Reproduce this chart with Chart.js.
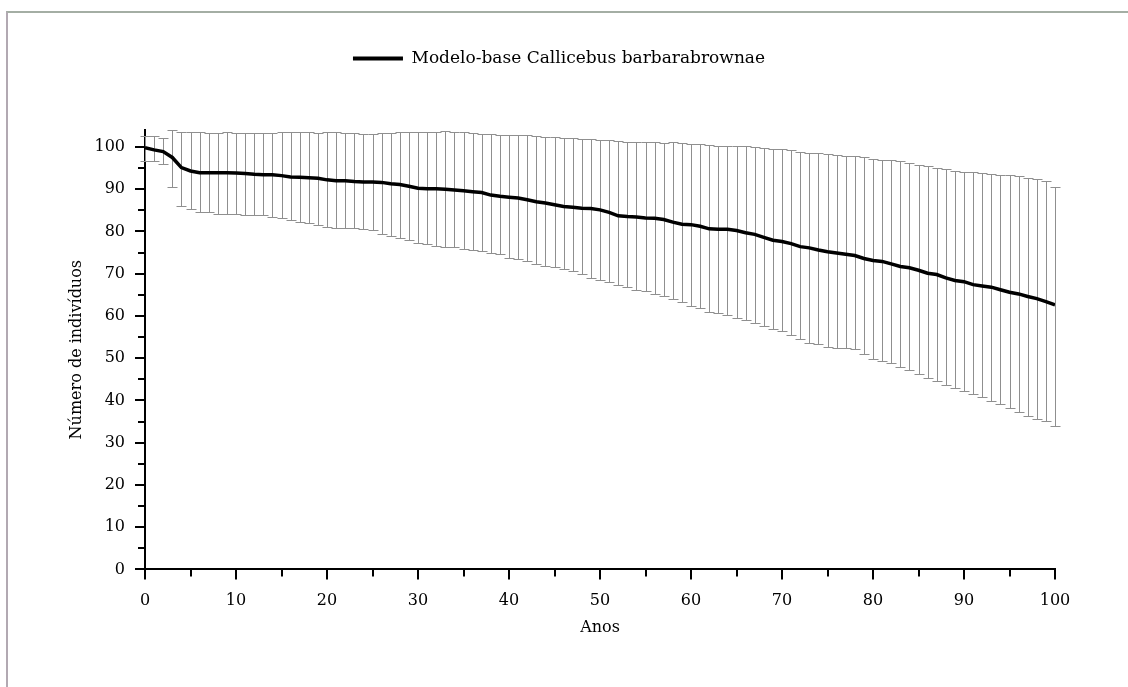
<!DOCTYPE html>
<html>
<head>
<meta charset="utf-8">
<script src="https://cdn.jsdelivr.net/npm/chart.js@4"></script>
<style>
  body { margin: 0; background: #fff; }
  #frame { position: absolute; left: 6px; top: 11px; right: 0; bottom: 0; border-top: 2px solid #a4aea4; border-left: 2px solid #b2a9b2; }
  #chart { position: absolute; left: 0; top: 0; }
</style>
</head>
<body>
<div id="frame"></div>
<canvas id="chart" width="1128" height="687"></canvas>
<script>
// Modelo-base Callicebus barbarabrownae - mean population size per year with error bars
const SERIES_LABEL = 'Modelo-base Callicebus barbarabrownae';

const years = [];
for (let i = 0; i <= 100; i++) years.push(i);

const mean = [
  99.8, 99.3, 98.9, 97.5, 95.1, 94.3, 93.9, 93.9, 93.9, 93.9,
  93.8, 93.7, 93.5, 93.4, 93.4, 93.2, 92.9, 92.8, 92.7, 92.6,
  92.2, 92.0, 92.0, 91.8, 91.7, 91.7, 91.6, 91.3, 91.1, 90.7,
  90.2, 90.1, 90.1, 90.0, 89.8, 89.6, 89.4, 89.2, 88.6, 88.3,
  88.1, 87.9, 87.5, 87.0, 86.7, 86.3, 85.9, 85.7, 85.5, 85.4,
  85.1, 84.5, 83.7, 83.5, 83.4, 83.2, 83.1, 82.8, 82.2, 81.7,
  81.6, 81.2, 80.6, 80.5, 80.5, 80.2, 79.7, 79.3, 78.6, 77.9,
  77.6, 77.1, 76.4, 76.1, 75.6, 75.2, 74.9, 74.6, 74.3, 73.6,
  73.1, 72.9, 72.3, 71.7, 71.4, 70.8, 70.1, 69.8, 69.0, 68.4,
  68.1, 67.4, 67.1, 66.8, 66.2, 65.6, 65.2, 64.6, 64.1, 63.4,
  62.6
];

const upper = [
  102.6, 102.6, 102.2, 103.9, 103.6, 103.5, 103.5, 103.4, 103.4, 103.5,
  103.3, 103.3, 103.2, 103.2, 103.3, 103.5, 103.5, 103.5, 103.5, 103.4,
  103.5, 103.5, 103.4, 103.3, 103.0, 103.0, 103.2, 103.4, 103.5, 103.6,
  103.6, 103.5, 103.6, 103.7, 103.6, 103.5, 103.3, 103.1, 103.0, 102.9,
  102.8, 102.9, 102.8, 102.5, 102.4, 102.4, 102.2, 102.1, 101.9, 101.8,
  101.7, 101.6, 101.4, 101.2, 101.1, 101.2, 101.1, 101.0, 101.1, 100.9,
  100.8, 100.7, 100.5, 100.2, 100.2, 100.1, 100.1, 100.0, 99.8, 99.5,
  99.4, 99.2, 98.7, 98.6, 98.5, 98.4, 98.2, 97.9, 97.9, 97.6,
  97.2, 96.9, 96.8, 96.6, 96.2, 95.7, 95.4, 95.1, 94.7, 94.2,
  94.1, 94.0, 93.8, 93.6, 93.4, 93.4, 93.2, 92.7, 92.3, 92.0,
  90.4
];

const lower = [
  96.7, 96.6, 96.0, 90.4, 86.0, 85.3, 84.7, 84.5, 84.2, 84.1,
  84.1, 84.0, 84.0, 83.8, 83.4, 83.2, 82.6, 82.3, 82.0, 81.4,
  81.1, 80.9, 80.8, 80.7, 80.6, 80.3, 79.4, 79.0, 78.5, 77.9,
  77.3, 76.9, 76.5, 76.4, 76.2, 75.9, 75.7, 75.4, 75.0, 74.6,
  73.8, 73.5, 73.0, 72.4, 71.9, 71.5, 71.2, 70.6, 70.0, 69.0,
  68.4, 68.0, 67.2, 66.8, 66.2, 65.8, 65.2, 64.7, 64.0, 63.2,
  62.4, 61.8, 61.0, 60.8, 60.2, 59.6, 59.1, 58.4, 57.6, 56.8,
  56.4, 55.5, 54.6, 53.7, 53.3, 52.6, 52.5, 52.4, 52.2, 51.0,
  49.9, 49.4, 48.8, 47.9, 47.1, 46.2, 45.4, 44.6, 43.7, 42.9,
  42.3, 41.6, 40.8, 39.9, 39.1, 38.3, 37.3, 36.4, 35.7, 35.2,
  34.0
];

const FONT = { family: '"DejaVu Serif", "Liberation Serif", serif', size: 16 };

// grey error bars with caps, drawn under the mean line
const errorBars = {
  id: 'errorBars',
  beforeDatasetsDraw(chart) {
    const { ctx, scales: { x, y } } = chart;
    ctx.save();
    ctx.strokeStyle = '#8f8f8f';
    ctx.lineWidth = 1;
    ctx.beginPath();
    for (let i = 0; i < years.length; i++) {
      const px = Math.round(x.getPixelForValue(years[i])) + 0.5;
      const top = Math.round(y.getPixelForValue(upper[i])) + 0.5;
      const bot = Math.round(y.getPixelForValue(lower[i])) + 0.5;
      ctx.moveTo(px, top); ctx.lineTo(px, bot);
      ctx.moveTo(px - 5, top); ctx.lineTo(px + 5, top);
      ctx.moveTo(px - 5, bot); ctx.lineTo(px + 5, bot);
    }
    ctx.stroke();
    ctx.restore();
  }
};

// outside tick marks: long on labelled values, short in between
const axisTicks = {
  id: 'axisTicks',
  afterDraw(chart) {
    const { ctx, chartArea: a, scales: { x, y } } = chart;
    ctx.save();
    ctx.strokeStyle = '#000';
    ctx.lineWidth = 2;
    ctx.beginPath();
    x.ticks.forEach(t => {
      const px = Math.round(x.getPixelForValue(t.value));
      const len = t.value % 10 === 0 ? 10 : 7;
      ctx.moveTo(px, a.bottom); ctx.lineTo(px, a.bottom + len);
    });
    y.ticks.forEach(t => {
      const py = Math.round(y.getPixelForValue(t.value));
      const len = t.value % 10 === 0 ? 10 : 7;
      ctx.moveTo(a.left, py); ctx.lineTo(a.left - len, py);
    });
    ctx.stroke();
    ctx.restore();
  }
};

new Chart(document.getElementById('chart'), {
  type: 'line',
  data: {
    labels: years,
    datasets: [{
      label: SERIES_LABEL,
      data: years.map((yr, i) => ({ x: yr, y: mean[i] })),
      borderColor: '#000',
      backgroundColor: '#000',
      borderWidth: 3.5,
      pointRadius: 0,
      tension: 0
    }]
  },
  plugins: [errorBars, axisTicks],
  options: {
    responsive: false,
    animation: false,
    layout: { padding: { top: 40, left: 63, right: 73, bottom: 46 } },
    plugins: {
      legend: {
        weight: 3000,
        labels: {
          font: { family: FONT.family, size: 17 },
          color: '#000',
          boxWidth: 50,
          boxHeight: 4,
          padding: 10,
          generateLabels: chart => [{
            text: chart.data.datasets[0].label,
            fillStyle: '#000', strokeStyle: '#000', lineWidth: 0,
            hidden: false, datasetIndex: 0, fontColor: '#000'
          }]
        }
      },
      subtitle: { display: true, text: ' ', font: { size: 12, lineHeight: 1 }, padding: { top: 0, bottom: 41 } },
      tooltip: { enabled: false }
    },
    scales: {
      x: {
        type: 'linear', min: 0, max: 100,
        grid: { display: false },
        border: { display: true, color: '#000', width: 2 },
        ticks: {
          stepSize: 5, autoSkip: false, maxRotation: 0, padding: 14,
          color: '#000', font: FONT,
          callback: v => (v % 10 === 0 ? v : '')
        },
        title: { display: true, text: 'Anos', color: '#000', font: FONT, padding: { top: 4, bottom: 4 } },
        afterFit: s => { s.height = 71.6; }
      },
      y: {
        min: 0, max: 104,
        grid: { display: false },
        border: { display: true, color: '#000', width: 2 },
        ticks: {
          stepSize: 5, includeBounds: false, autoSkip: false, padding: 12,
          color: '#000', font: FONT,
          callback: v => (v % 10 === 0 ? v : '')
        },
        title: { display: true, text: 'Número de indivíduos', color: '#000', font: FONT, padding: { top: 4, bottom: 4 } },
        afterFit: s => { s.width = 82; }
      }
    }
  }
});
</script>
</body>
</html>
